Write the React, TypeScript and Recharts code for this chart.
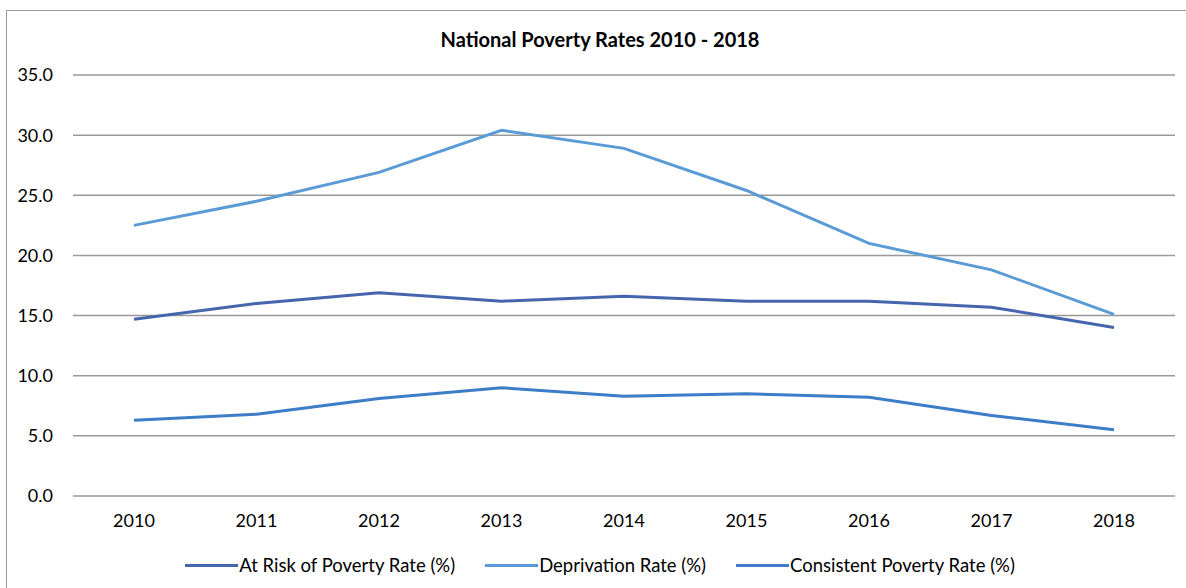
import React from 'react';
import { LineChart, Line, XAxis, YAxis, CartesianGrid, Legend } from 'recharts';

const years = ['2010', '2011', '2012', '2013', '2014', '2015', '2016', '2017', '2018'];
const atRisk = [14.7, 16.0, 16.9, 16.2, 16.6, 16.2, 16.2, 15.7, 14.0];
const deprivation = [22.5, 24.5, 26.9, 30.4, 28.9, 25.4, 21.0, 18.8, 15.1];
const consistent = [6.3, 6.8, 8.1, 9.0, 8.3, 8.5, 8.2, 6.7, 5.5];
const yTicks = [0, 5, 10, 15, 20, 25, 30, 35];

const SERIES = [
  { key: 'atRisk', name: 'At Risk of Poverty Rate (%)', color: '#4565AD' },
  { key: 'deprivation', name: 'Deprivation Rate (%)', color: '#5B9BD5' },
  { key: 'consistent', name: 'Consistent Poverty Rate (%)', color: '#3D7CC6' }
];

const data = years.map((year, i) => ({
  year,
  atRisk: atRisk[i],
  deprivation: deprivation[i],
  consistent: consistent[i]
}));

const FONT = 'Lato, "Open Sans", sans-serif';

const renderLegend = () => (
  <div style={{ display: 'flex', justifyContent: 'center', gap: 30, fontFamily: FONT, fontSize: 18.5, color: '#000' }}>
    {SERIES.map(s => (
      <div key={s.key} style={{ display: 'flex', alignItems: 'center' }}>
        <span style={{ display: 'inline-block', width: 53, height: 3, background: s.color, marginRight: 1 }} />
        <span>{s.name}</span>
      </div>
    ))}
  </div>
);

export default function App() {
  return (
    <div style={{ position: 'absolute', left: 0, top: 0, width: 1186, height: 588, background: '#fff', overflow: 'hidden' }}>
      <div style={{ position: 'absolute', left: 6, top: 10, width: 1200, height: 600, borderLeft: '1px solid #9a9a9a', borderTop: '1px solid #9a9a9a' }} />
      <div style={{ position: 'absolute', left: 0, top: 27, width: 1200, textAlign: 'center', fontFamily: FONT, fontWeight: 700, fontSize: 20, color: '#000' }}>
        National Poverty Rates 2010 - 2018
      </div>
      <div style={{ position: 'absolute', left: 0, top: 0 }}>
        <LineChart width={1186} height={588} data={data} margin={{ top: 75, right: 11, bottom: 62, left: 13 }}>
          <CartesianGrid vertical={false} stroke="#999" strokeWidth={1.5} />
          <XAxis
            dataKey="year"
            axisLine={false}
            tickLine={false}
            tickMargin={12}
            height={30}
            padding={{ left: 61, right: 61 }}
            tick={{ fontSize: 18, fill: '#000', fontFamily: FONT }}
          />
          <YAxis
            domain={[0, 35]}
            ticks={yTicks}
            width={60}
            axisLine={false}
            tickLine={false}
            tickMargin={14}
            tickFormatter={(v: number) => v.toFixed(1)}
            tick={{ fontSize: 18, fill: '#000', fontFamily: FONT }}
          />
          <Legend
            verticalAlign="middle"
            content={renderLegend}
            wrapperStyle={{ position: 'absolute', top: 554, left: 0, width: 1200 }}
          />
          {SERIES.map(s => (
            <Line
              key={s.key}
              type="linear"
              dataKey={s.key}
              name={s.name}
              stroke={s.color}
              strokeWidth={3}
              dot={false}
              activeDot={false}
              isAnimationActive={false}
            />
          ))}
        </LineChart>
      </div>
    </div>
  );
}
